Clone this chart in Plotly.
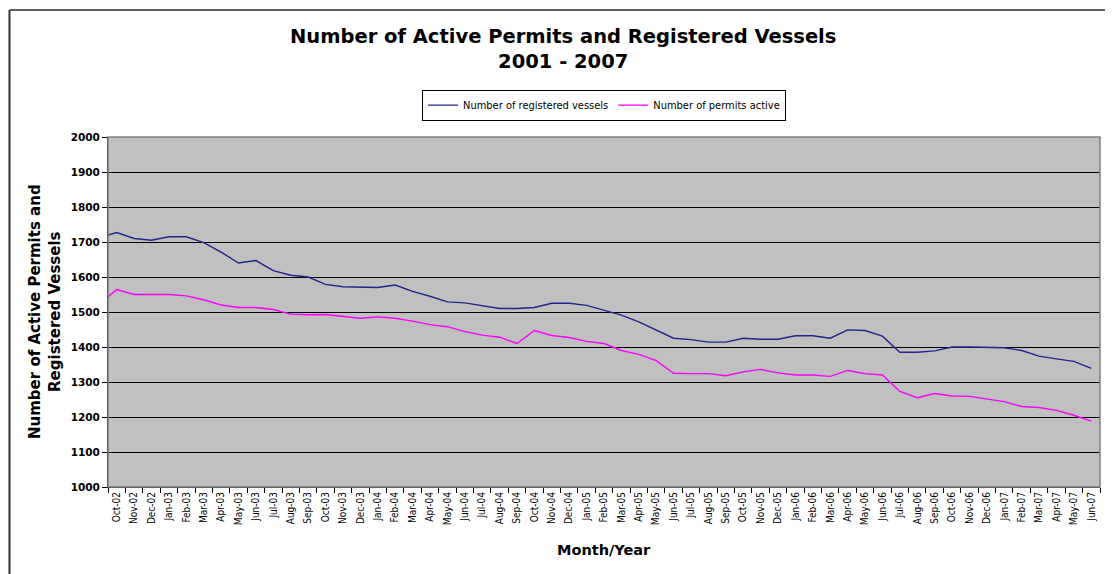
import plotly.graph_objects as go

# ---- data ----
months = ["Sep-02",
          "Oct-02", "Nov-02", "Dec-02",
          "Jan-03", "Feb-03", "Mar-03", "Apr-03", "May-03", "Jun-03",
          "Jul-03", "Aug-03", "Sep-03", "Oct-03", "Nov-03", "Dec-03",
          "Jan-04", "Feb-04", "Mar-04", "Apr-04", "May-04", "Jun-04",
          "Jul-04", "Aug-04", "Sep-04", "Oct-04", "Nov-04", "Dec-04",
          "Jan-05", "Feb-05", "Mar-05", "Apr-05", "May-05", "Jun-05",
          "Jul-05", "Aug-05", "Sep-05", "Oct-05", "Nov-05", "Dec-05",
          "Jan-06", "Feb-06", "Mar-06", "Apr-06", "May-06", "Jun-06",
          "Jul-06", "Aug-06", "Sep-06", "Oct-06", "Nov-06", "Dec-06",
          "Jan-07", "Feb-07", "Mar-07", "Apr-07", "May-07", "Jun-07"]

registered_vessels = [1713,
    1727, 1710, 1705, 1715, 1715, 1698, 1671, 1640, 1647, 1618,
    1605, 1600, 1579, 1572, 1570, 1570, 1577, 1559, 1545, 1529,
    1526, 1518, 1510, 1510, 1513, 1525, 1525, 1519, 1505, 1491,
    1472, 1449, 1425, 1421, 1414, 1414, 1425, 1422, 1422, 1432,
    1432, 1425, 1449, 1447, 1431, 1385, 1385, 1389, 1400, 1400,
    1400, 1398, 1390, 1374, 1366, 1359, 1339]

permits_active = [1523,
    1564, 1550, 1550, 1550, 1546, 1535, 1520, 1513, 1513, 1507,
    1494, 1492, 1493, 1488, 1482, 1486, 1482, 1474, 1464, 1458,
    1444, 1434, 1428, 1410, 1447, 1433, 1427, 1416, 1410, 1390,
    1379, 1361, 1325, 1324, 1324, 1318, 1329, 1336, 1326, 1320,
    1320, 1316, 1333, 1324, 1320, 1273, 1255, 1267, 1260, 1259,
    1251, 1244, 1230, 1227, 1219, 1205, 1188]

y_ticks = [1000, 1100, 1200, 1300, 1400, 1500, 1600, 1700, 1800, 1900, 2000]

# first entry (Sep-02) lies before the visible axis start
xpos = list(range(-1, len(months) - 1))
shown_pos = xpos[1:]
shown_labels = months[1:]

BOLD = "DejaVu Sans"
REG = "DejaVu Sans Condensed, Liberation Sans, Arial"

fig = go.Figure()
fig.add_trace(go.Scatter(x=xpos, y=registered_vessels, mode="lines",
                         name="Number of registered vessels",
                         line=dict(color="#24248C", width=1.4)))
fig.add_trace(go.Scatter(x=xpos, y=permits_active, mode="lines",
                         name="Number of permits active",
                         line=dict(color="#FF00FF", width=1.4)))

n = len(shown_pos)
fig.update_layout(
    width=1105, height=566,
    margin=dict(l=100, r=13, t=129, b=87),
    paper_bgcolor="white",
    plot_bgcolor="#C0C0C0",
    showlegend=True,
    legend=dict(orientation="h", x=0.5, xanchor="center", y=1.091, yanchor="middle",
                bordercolor="black", borderwidth=1, bgcolor="white",
                font=dict(family=REG, size=11, color="black"),
                itemwidth=30, tracegroupgap=0),
    xaxis=dict(range=[-0.5, n - 0.5], tickmode="array",
               tickvals=shown_pos, ticktext=shown_labels,
               tickangle=-90, ticks="", showgrid=False, zeroline=False,
               showline=True, linecolor="black", linewidth=1,
               tickfont=dict(family=REG, size=10, color="black"),
               minor=dict(tickmode="array",
                          tickvals=[i - 0.5 for i in range(n + 1)],
                          ticks="outside", ticklen=5, tickcolor="black",
                          tickwidth=1, showgrid=False)),
    yaxis=dict(range=[1000, 2000], tickmode="array", tickvals=y_ticks,
               ticks="outside", ticklen=5, tickcolor="black",
               showgrid=True, gridcolor="black", gridwidth=1,
               zeroline=False, showline=True, linecolor="black", linewidth=1,
               tickfont=dict(family=BOLD, size=10.5, color="black", weight="bold")),
    annotations=[
        dict(text="<b>Number of Active Permits and Registered Vessels<br>2001 - 2007</b>",
             xref="paper", yref="paper", x=0.4587, y=1.251,
             xanchor="center", yanchor="middle", showarrow=False,
             font=dict(family=BOLD, size=19.5, color="black")),
        dict(text="<b>Number of Active Permits and<br>Registered Vessels</b>",
             xref="paper", yref="paper", x=-0.0635, y=0.5, textangle=-90,
             xanchor="center", yanchor="middle", showarrow=False,
             font=dict(family=BOLD, size=15, color="black")),
        dict(text="<b>Month/Year</b>",
             xref="paper", yref="paper", x=0.5, y=-0.18,
             xanchor="center", yanchor="middle", showarrow=False,
             font=dict(family=BOLD, size=14.5, color="black")),
    ],
    shapes=[
        # plot area border (grey)
        dict(type="rect", xref="paper", yref="paper", x0=0, x1=1, y0=0, y1=1,
             line=dict(color="#808080", width=1.5), layer="above"),
        # outer chart frame (left and top edges)
        dict(type="line", xref="paper", yref="paper", x0=-0.0993, x1=-0.0993,
             y0=-0.3, y1=1.363, line=dict(color="#303030", width=2)),
        dict(type="line", xref="paper", yref="paper", x0=-0.0993, x1=1.02,
             y0=1.363, y1=1.363, line=dict(color="#606060", width=2)),
    ],
)

fig.write_html("out.html")
